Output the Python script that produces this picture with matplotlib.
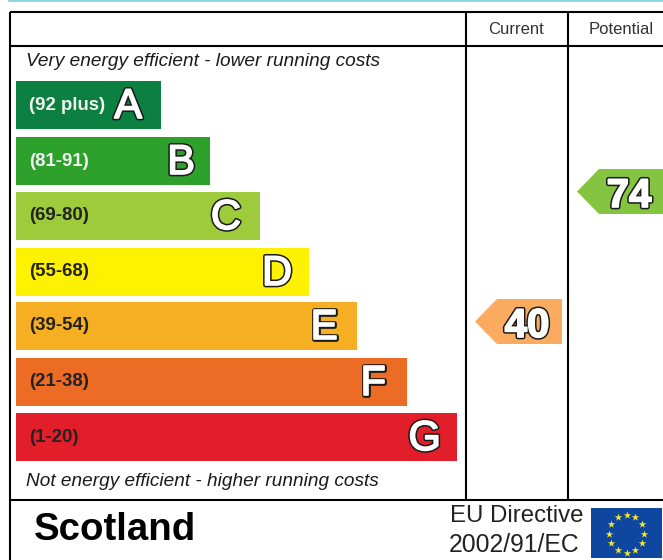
import matplotlib
matplotlib.use('Agg')
import matplotlib.pyplot as plt
import matplotlib.patheffects as pe
from matplotlib.patches import Polygon
import numpy as np

plt.rcParams['font.family'] = ['Liberation Sans', 'DejaVu Sans']

# bands
letters = ['A', 'B', 'C', 'D', 'E', 'F', 'G']
ranges = ['(92 plus)', '(81-91)', '(69-80)', '(55-68)', '(39-54)', '(21-38)', '(1-20)']
band_top = [81, 137, 192, 248, 302, 358, 413]
band_right = [161, 210, 260, 309, 357, 407, 457]
letter_right = [143, 196, 242, 293, 339, 387, 442]
band_colors = ['#0b8040', '#2da12b', '#9dcb3c', '#fff200', '#f6ae22', '#ec6b25', '#e31e2b']
range_colors = ['#f2f2f2', '#f2f2f2', '#222222', '#222222', '#222222', '#222222', '#222222']

# current / potential
scores = [40, 74]
score_colors = ['#fbab60', '#85c441']
score_left = [475, 577]
score_right = [562, 663]
score_top = [299, 169]

eu_angles = [0, 30, 60, 90, 120, 150, 180, 210, 240, 270, 300, 330]

fig = plt.figure(figsize=(6.63, 5.60), dpi=100)
ax = fig.add_axes([0, 0, 1, 1])
ax.set_xlim(0, 663)
ax.set_ylim(560, 0)
ax.axis('off')

# top strip of the page
ax.plot([9, 663], [0, 0], color='#8fd0de', lw=2)

# table frame
for xs, ys in [([10, 10], [12, 560]), ([10, 663], [12, 12]), ([10, 663], [46, 46]),
               ([10, 663], [500, 500]), ([466, 466], [12, 500]), ([568, 568], [12, 500])]:
    ax.plot(xs, ys, color='black', lw=1.5, solid_capstyle='butt')

# dark edge round a thickened white glyph
outline = [pe.Stroke(linewidth=3.4, foreground='#1a1a1a'),
           pe.Stroke(linewidth=1.2, foreground='white'), pe.Normal()]

for i in range(len(letters)):
    ax.barh(band_top[i] + 24, band_right[i] - 16, height=47.5, left=16, color=band_colors[i])
    ax.text(29, band_top[i] + 24, ranges[i], color=range_colors[i], fontsize=13.4,
            fontweight='bold', va='center', ha='left')
    ax.text(letter_right[i] - 1, band_top[i] + 37, letters[i], color='white', fontsize=30,
            va='baseline', ha='right', path_effects=outline)

for i in range(len(scores)):
    l, r, t = score_left[i], score_right[i], score_top[i]
    ax.add_patch(Polygon([[l, t + 22.5], [l + 22, t], [r, t], [r, t + 45], [l + 22, t + 45]],
                         closed=True, color=score_colors[i], lw=0))
    ax.text(l + 52, t + 38, str(scores[i]), color='white', fontsize=29, fontweight='bold',
            va='baseline', ha='center', path_effects=outline)

ax.text(26, 62, 'Very energy efficient - lower running costs', fontsize=13.65,
        style='italic', color='#1a1a1a', va='center')
ax.text(26, 481, 'Not energy efficient - higher running costs', fontsize=13.65,
        style='italic', color='#1a1a1a', va='center')
ax.text(516, 29, 'Current', fontsize=12, color='#333333', va='center', ha='center')
ax.text(621, 29, 'Potential', fontsize=12, color='#333333', va='center', ha='center')
ax.text(34, 530, 'Scotland', fontsize=27.6, fontweight='bold', color='black', va='center')
ax.text(450, 516, 'EU Directive', fontsize=17.3, color='#222222', va='center')
ax.text(449, 545, '2002/91/EC', fontsize=17.8, color='#222222', va='center')

# EU flag
ax.barh(533, 71, height=50, left=591, color='#0f47a0')
ang = np.radians(eu_angles)
ax.scatter(626.5 + 17.5 * np.sin(ang), 533.5 - 19 * np.cos(ang), marker='*', s=32,
           color='#f5e62e', linewidths=0)

fig.savefig('out.png', dpi=100, facecolor='white')
